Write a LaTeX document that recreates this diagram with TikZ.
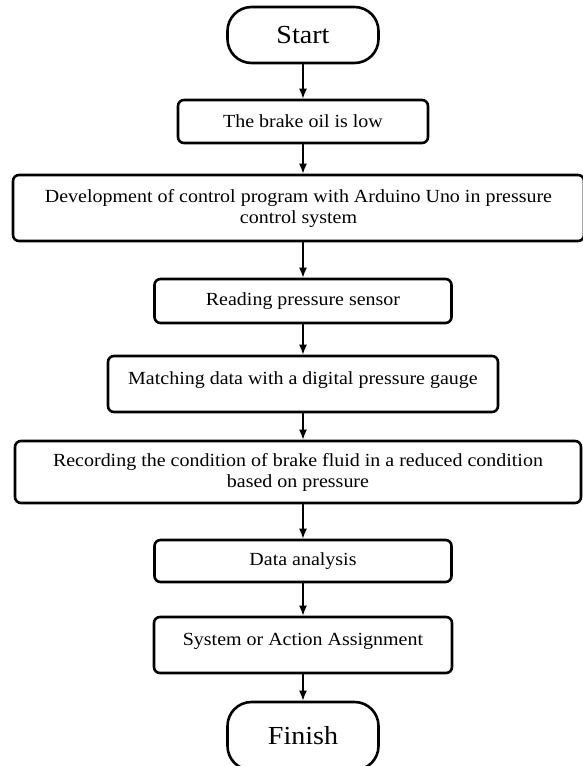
\documentclass[tikz,border=0pt]{standalone}
\usepackage{fontspec}
\setmainfont{Liberation Serif}[FakeStretch=1.08]
\usetikzlibrary{positioning, arrows.meta}

\begin{document}
\begin{tikzpicture}[
    x=1pt, y=-1pt,
    every node/.style={font=\fontsize{18.5}{21}\selectfont},
    stepbox/.style={draw, rectangle, rounded corners=6pt, line width=2.6pt,
                    inner sep=0pt, align=center},
    terminal/.style={stepbox, rounded corners=24pt, font=\fontsize{26}{30}\selectfont},
    lowtext/.style={text depth=12pt},
    arrow/.style={-{Latex[length=10pt,width=8pt]}, line width=1.6pt}
]
\useasboundingbox (0,0) rectangle (583,766);

% Start and first steps
\node[terminal, minimum width=151pt, minimum height=56pt] (start) at (303,35) {Start};
\node[stepbox, minimum width=250pt, minimum height=43pt] (low) at (303,121.5) {The brake oil is low};
\node[stepbox, minimum width=571pt, minimum height=66pt] (prog) at (298.5,208)
    {Development of control program with Arduino Uno in pressure\\control system};
\node[stepbox, minimum width=297pt, minimum height=44pt] (sensor) at (303,301) {Reading pressure sensor};
\node[stepbox, lowtext, minimum width=390pt, minimum height=56pt] (gauge) at (303,384)
    {Matching data with a digital pressure gauge};

% Recording and analysis
\node[stepbox, minimum width=566pt, minimum height=62pt] (record) at (298,472)
    {Recording the condition of brake fluid in a reduced condition\\based on pressure};
\node[stepbox, minimum width=297pt, minimum height=42pt] (analysis) at (303,561) {Data analysis};
\node[stepbox, lowtext, minimum width=298pt, minimum height=56pt] (assign) at (303,645)
    {System or Action Assignment};
\node[terminal, minimum width=151pt, minimum height=68pt] (finish) at (303,736) {Finish};

\draw[arrow] (start) -- (low);
\draw[arrow] (low) -- (low |- prog.north);
\draw[arrow] (prog.south -| sensor) -- (sensor);
\draw[arrow] (sensor) -- (gauge);
\draw[arrow] (gauge) -- (gauge |- record.north);
\draw[arrow] (record.south -| analysis) -- (analysis);
\draw[arrow] (analysis) -- (assign);
\draw[arrow] (assign) -- (finish);

\end{tikzpicture}
\end{document}
